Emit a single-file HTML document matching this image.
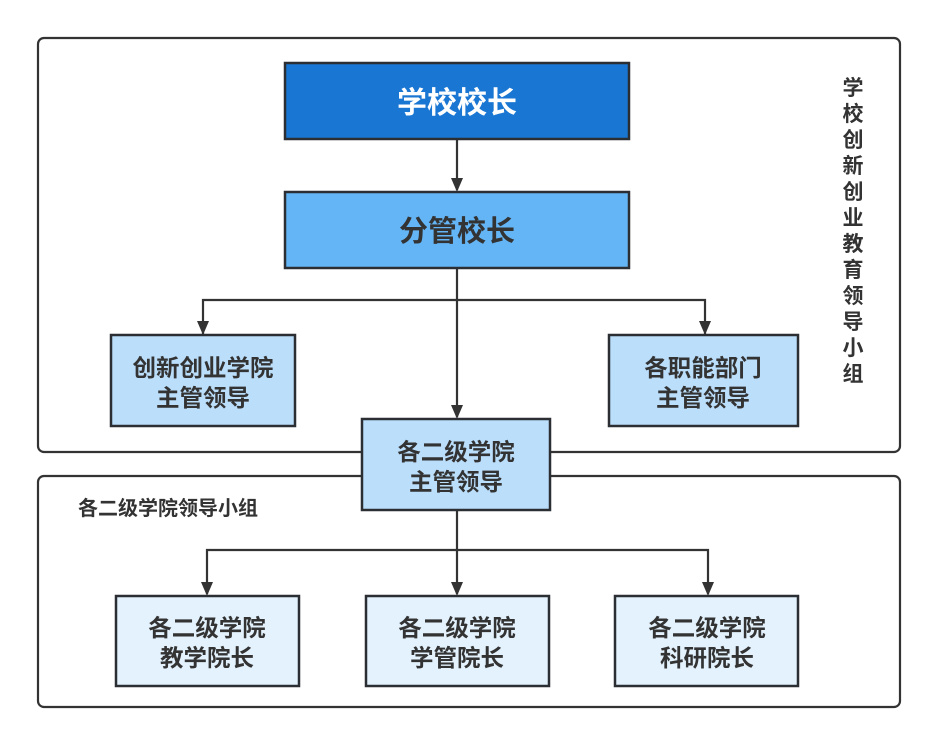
<!DOCTYPE html>
<html><head><meta charset="utf-8"><style>
html,body{margin:0;padding:0;background:#fff;}
svg{display:block;}
text{font-family:"Liberation Sans","Noto Sans CJK SC",sans-serif;font-weight:bold;text-anchor:middle;}
</style></head><body>
<svg width="937" height="744" viewBox="0 0 937 744" xmlns="http://www.w3.org/2000/svg">
<g fill="none" stroke="#333" stroke-width="2.2">
<rect x="38" y="38" width="862" height="414" rx="6"/>
<rect x="38" y="476" width="862" height="231" rx="6"/>
</g>
<g stroke="#333" stroke-width="2.2" fill="none">
<line x1="457" y1="139" x2="457" y2="190"/>
<line x1="457" y1="268" x2="457" y2="417"/>
<polyline points="203,335 203,300 705,300 705,335"/>
<line x1="457" y1="510" x2="457" y2="594"/>
<polyline points="207,594 207,550 708,550 708,594"/>
</g>
<g fill="#333">
<path d="M451,178 L463,178 L457,192 Z"/>
<path d="M451,405 L463,405 L457,419 Z"/>
<path d="M197,321 L209,321 L203,335 Z"/>
<path d="M699,321 L711,321 L705,335 Z"/>
<path d="M451,582 L463,582 L457,596 Z"/>
<path d="M201,582 L213,582 L207,596 Z"/>
<path d="M702,582 L714,582 L708,596 Z"/>
</g>
<g stroke="#2b2f33" stroke-width="2.5">
<rect x="285" y="63" width="344" height="76" fill="#1976d2"/>
<rect x="285" y="192" width="344" height="76" fill="#64b5f6"/>
<rect x="111" y="335" width="184" height="91" fill="#bbdefb"/>
<rect x="609" y="335" width="189" height="91" fill="#bbdefb"/>
<rect x="362" y="419" width="188" height="91" fill="#bbdefb"/>
<rect x="116" y="596" width="183" height="90" fill="#e3f2fd"/>
<rect x="366" y="596" width="183" height="90" fill="#e3f2fd"/>
<rect x="615" y="596" width="183" height="90" fill="#e3f2fd"/>
</g>
<text x="457" y="113" font-size="30" fill="#fff">学校校长</text>
<text x="457" y="241" font-size="29" fill="#333">分管校长</text>
<g font-size="23.5" fill="#333">
<text x="203" y="376">创新创业学院</text><text x="203" y="406">主管领导</text>
<text x="703" y="376">各职能部门</text><text x="703" y="406">主管领导</text>
<text x="456" y="460">各二级学院</text><text x="456" y="490">主管领导</text>
<text x="207" y="636">各二级学院</text><text x="207" y="666">教学院长</text>
<text x="457" y="636">各二级学院</text><text x="457" y="666">学管院长</text>
<text x="707" y="636">各二级学院</text><text x="707" y="666">科研院长</text>
</g>
<text x="78" y="515" font-size="20" fill="#333" style="text-anchor:start">各二级学院领导小组</text>
<g font-size="21" fill="#333">
<text x="853" y="95">学</text><text x="853" y="121">校</text><text x="853" y="147">创</text>
<text x="853" y="173">新</text><text x="853" y="199">创</text><text x="853" y="225">业</text>
<text x="853" y="251">教</text><text x="853" y="277">育</text><text x="853" y="303">领</text>
<text x="853" y="329">导</text><text x="853" y="355">小</text><text x="853" y="381">组</text>
</g>
</svg>
</body></html>
